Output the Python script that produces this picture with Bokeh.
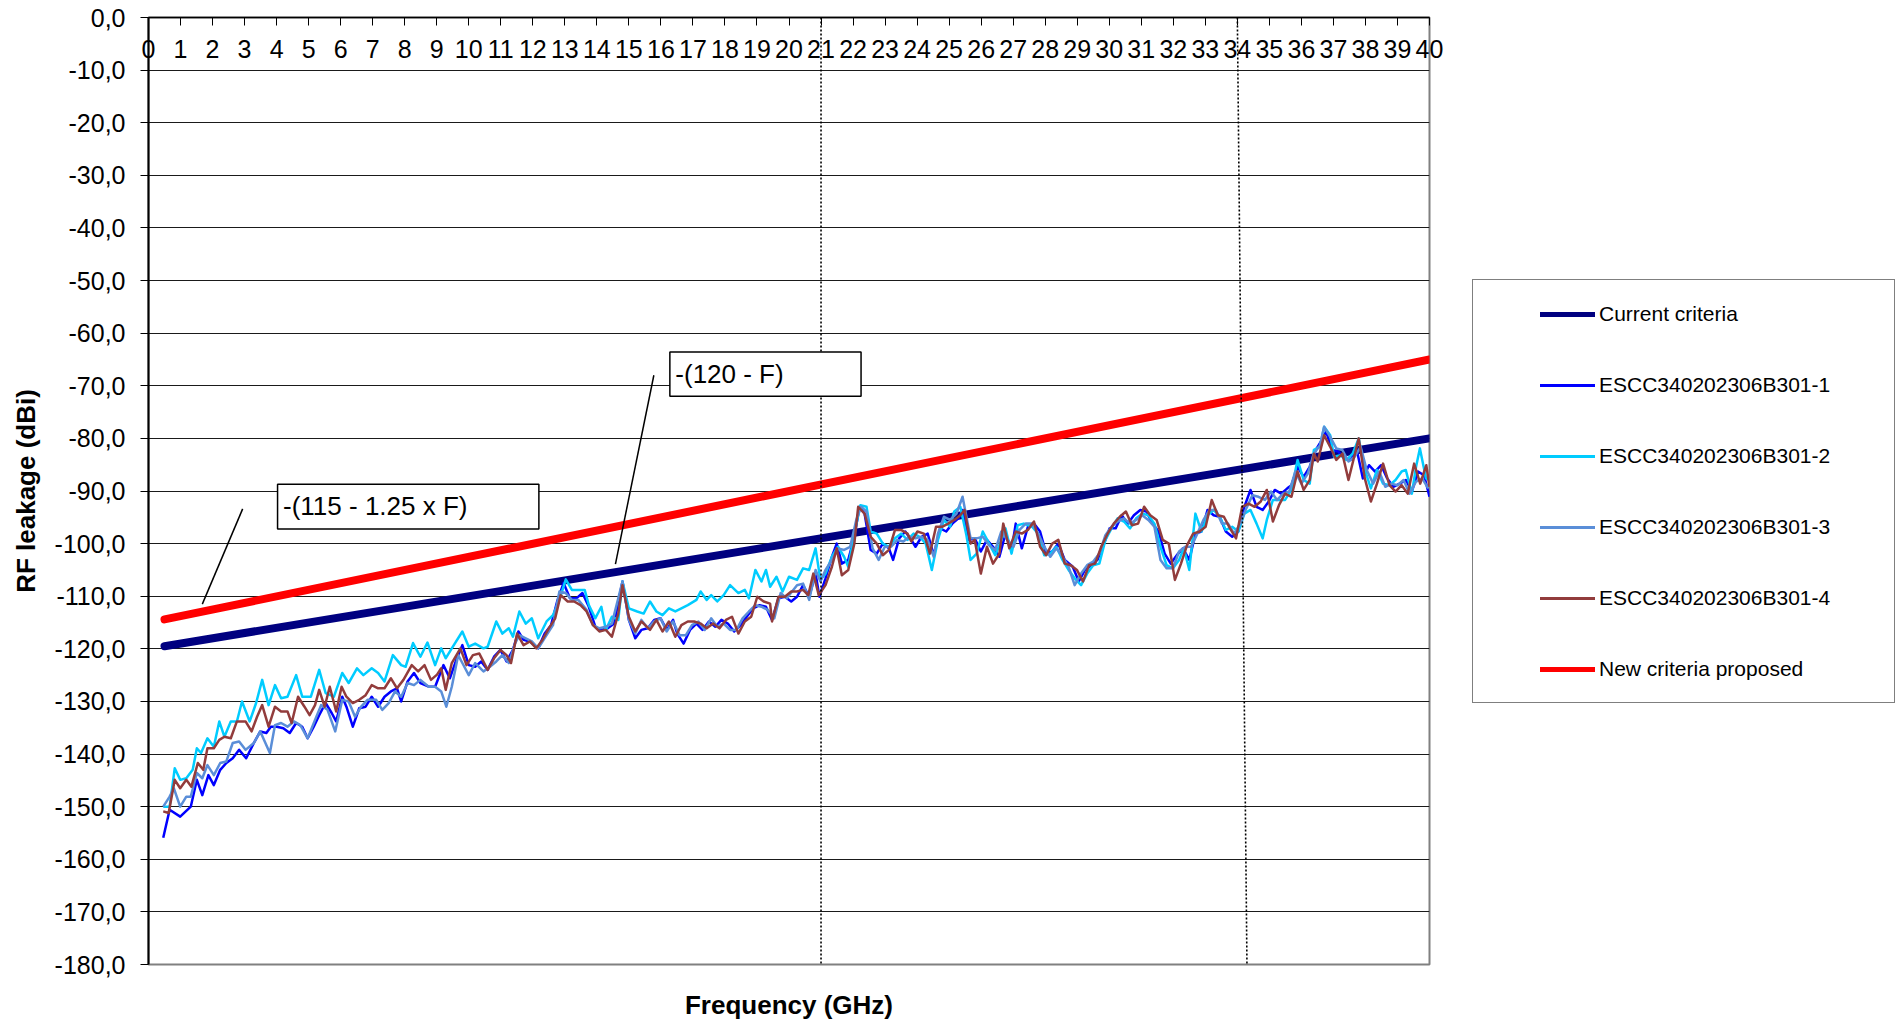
from bokeh.plotting import figure
from bokeh.models import Range1d, LinearAxis, FixedTicker, Legend, LegendItem, Grid
from bokeh.layouts import row
from bokeh.embed import file_html
from bokeh.resources import INLINE
from bokeh.core.properties import value

FONT = "Liberation Sans"

# ---------------- data (frequency GHz, RF leakage dBi) ----------------
series_names = ["ESCC340202306B301-1", "ESCC340202306B301-2",
                "ESCC340202306B301-3", "ESCC340202306B301-4"]
current_name = "Current criteria"
new_name = "New criteria proposed"

crit_freq = [0.5, 40.0]
current_dbi = [-119.5, -80.0]
new_dbi = [-114.4, -65.0]

s1 = [(0.46,-155.9),(0.66,-150.6),(0.99,-151.9),(1.32,-150.0),(1.51,-144.9),(1.68,-147.8),(1.87,-144.0),(2.04,-145.9),(2.24,-143.0),(2.43,-141.7),
      (2.63,-140.8),(2.83,-139.2),(3.05,-140.8),(3.29,-137.9),(3.49,-135.7),(3.68,-136.0),(3.82,-134.8),(4.01,-134.8),(4.21,-135.1),(4.41,-136.0),
      (4.61,-134.1),(4.80,-134.8),(4.97,-137.0),(5.16,-134.8),(5.33,-132.6),(5.53,-130.3),(5.72,-132.2),(5.86,-133.8),(6.05,-129.1),(6.18,-131.0),
      (6.38,-134.8),(6.58,-131.3),(6.78,-131.0),(6.97,-129.1),(7.17,-131.0),(7.37,-129.1),(7.57,-128.1),(7.76,-127.5),(7.89,-130.0),(8.09,-126.2),
      (8.29,-124.6),(8.49,-126.5),(8.75,-127.2),(8.95,-127.2),(9.21,-123.1),(9.41,-125.6),(9.61,-122.1),(9.80,-119.3),(10.0,-123.1),(10.20,-123.4),
      (10.39,-122.4),(10.59,-124.0),(10.79,-121.5),(10.99,-120.2),(11.18,-122.4),(11.38,-120.2),(11.55,-116.7),(11.71,-118.3),(11.91,-118.6),(12.17,-119.9),
      (12.37,-117.1),(12.57,-115.5),(12.76,-111.0),(12.96,-107.5),(13.16,-110.4),(13.36,-110.4),(13.55,-109.4),(13.75,-112.0),(13.95,-115.8),(14.14,-116.4),
      (14.34,-116.1),(14.54,-115.2),(14.80,-107.2),(15.0,-114.5),(15.20,-118.0),(15.39,-116.4),(15.59,-116.1),(15.79,-114.5),(15.99,-114.2),(16.18,-116.4),
      (16.38,-114.5),(16.51,-117.1),(16.71,-119.0),(16.91,-116.4),(17.11,-115.2),(17.30,-116.4),(17.50,-114.8),(17.70,-115.8),(17.89,-114.5),(18.09,-115.2),
      (18.29,-116.7),(18.49,-115.5),(18.68,-113.9),(18.88,-112.3),(19.08,-111.7),(19.28,-112.0),(19.47,-114.5),(19.67,-110.4),(19.87,-110.1),(20.07,-111.0),
      (20.25,-110.1),(20.44,-107.9),(20.63,-110.1),(20.83,-105.7),(20.95,-110.1),(21.14,-106.6),(21.34,-102.5),(21.49,-100.0),(21.65,-103.8),(21.85,-103.1),
      (22.04,-98.7),(22.20,-93.0),(22.36,-94.3),(22.55,-101.2),(22.74,-101.9),(22.93,-100.0),(23.12,-100.9),(23.25,-103.1),(23.44,-99.0),(23.63,-97.7),
      (23.82,-99.3),(23.95,-100.6),(24.14,-98.7),(24.33,-98.1),(24.52,-102.2),(24.72,-97.1),(24.91,-97.7),(25.10,-96.2),(25.29,-95.2),(25.42,-93.6),
      (25.61,-99.3),(25.80,-99.0),(25.99,-101.5),(26.18,-99.3),(26.37,-100.6),(26.57,-102.5),(26.76,-98.1),(26.95,-101.2),(27.08,-96.2),(27.27,-100.9),
      (27.46,-96.8),(27.65,-96.2),(27.84,-97.7),(28.03,-101.9),(28.22,-101.5),(28.41,-100.0),(28.61,-103.1),(28.86,-104.4),(29.05,-107.2),(29.24,-105.0),
      (29.44,-104.1),(29.63,-103.1),(29.82,-100.3),(30.01,-97.1),(30.20,-97.1),(30.39,-94.6),(30.58,-96.2),(30.77,-94.6),(30.97,-93.6),(31.16,-93.9),
      (31.35,-96.2),(31.54,-97.7),(31.73,-101.9),(31.92,-103.8),(32.11,-102.2),(32.30,-100.9),(32.50,-103.1),(32.69,-98.1),(32.88,-97.7),(33.07,-93.6),
      (33.26,-94.6),(33.45,-94.9),(33.64,-97.7),(33.84,-98.7),(34.03,-97.7),(34.22,-93.0),(34.41,-89.8),(34.60,-93.0),(34.79,-93.6),(34.98,-92.0),
      (35.17,-89.8),(35.37,-90.5),(35.56,-89.5),(35.69,-88.9),(35.88,-85.4),(36.07,-87.3),(36.26,-85.4),(36.45,-82.2),(36.64,-80.3),(36.77,-78.7),
      (36.96,-82.2),(37.15,-82.5),(37.34,-83.8),(37.53,-84.1),(37.73,-82.2),(37.92,-87.6),(38.11,-85.1),(38.30,-86.3),(38.49,-85.1),(38.68,-87.6),
      (38.87,-89.2),(39.07,-88.6),(39.26,-87.9),(39.45,-90.1),(39.64,-86.3),(39.83,-87.0),(40.0,-91.1)]

s2 = [(0.46,-150.0),(0.66,-150.0),(0.82,-142.7),(0.99,-144.9),(1.18,-144.6),(1.38,-143.0),(1.51,-138.9),(1.64,-139.8),(1.84,-137.0),(2.04,-138.6),
      (2.21,-133.8),(2.37,-136.7),(2.57,-133.8),(2.76,-133.8),(2.92,-130.0),(3.16,-133.8),(3.36,-130.3),(3.55,-125.9),(3.75,-130.7),(3.95,-126.9),
      (4.14,-129.4),(4.34,-129.1),(4.61,-125.0),(4.80,-129.1),(5.07,-129.1),(5.33,-124.0),(5.53,-128.4),(5.79,-129.1),(6.05,-124.6),(6.25,-126.5),
      (6.51,-123.7),(6.71,-125.0),(6.97,-123.7),(7.17,-124.6),(7.37,-126.2),(7.63,-121.2),(7.89,-123.1),(8.03,-123.4),(8.26,-118.9),(8.49,-121.5),
      (8.71,-118.8),(8.95,-123.1),(9.14,-119.9),(9.28,-121.8),(9.47,-119.9),(9.80,-116.7),(10.0,-119.6),(10.20,-119.0),(10.46,-119.9),(10.59,-119.6),
      (10.86,-114.8),(11.05,-117.1),(11.25,-116.1),(11.38,-117.7),(11.58,-112.9),(11.78,-115.2),(11.97,-114.2),(12.17,-118.0),(12.43,-114.8),(12.63,-113.6),
      (12.83,-110.7),(13.03,-106.8),(13.22,-108.8),(13.42,-108.8),(13.62,-108.8),(13.75,-111.7),(13.95,-114.2),(14.14,-112.0),(14.28,-116.4),(14.47,-113.9),
      (14.67,-114.5),(14.80,-107.2),(15.0,-112.3),(15.26,-112.9),(15.46,-113.3),(15.66,-111.0),(15.86,-112.9),(16.05,-113.6),(16.25,-112.3),(16.45,-112.9),
      (16.64,-112.3),(16.84,-111.7),(17.11,-110.7),(17.24,-109.1),(17.43,-110.7),(17.57,-109.8),(17.76,-111.0),(17.96,-109.8),(18.16,-107.9),(18.42,-109.4),
      (18.62,-108.8),(18.75,-110.4),(18.95,-105.0),(19.14,-107.2),(19.28,-105.0),(19.41,-108.2),(19.61,-106.3),(19.80,-109.1),(20.0,-106.3),
      (20.25,-106.9),(20.44,-104.7),(20.63,-105.0),(20.83,-100.9),(20.98,-106.9),(21.14,-105.7),(21.34,-102.5),(21.53,-100.6),(21.72,-102.5),(21.85,-104.4),
      (22.04,-98.1),(22.23,-92.7),(22.42,-93.0),(22.55,-97.7),(22.74,-98.1),(22.93,-100.0),(23.12,-100.6),(23.31,-99.0),(23.50,-98.1),(23.70,-99.3),
      (23.89,-98.1),(24.08,-98.7),(24.27,-100.0),(24.46,-105.0),(24.65,-99.3),(24.84,-95.5),(25.03,-96.8),(25.16,-93.9),(25.35,-93.0),(25.54,-98.4),
      (25.67,-103.1),(25.86,-101.9),(26.05,-97.7),(26.25,-100.0),(26.44,-102.2),(26.63,-99.3),(26.76,-97.1),(26.95,-101.9),(27.14,-96.5),(27.33,-96.2),
      (27.59,-96.8),(27.78,-98.1),(27.97,-102.2),(28.16,-101.9),(28.35,-100.6),(28.54,-103.1),(28.73,-105.0),(28.92,-106.6),(29.12,-107.9),(29.31,-105.7),
      (29.50,-104.1),(29.69,-103.8),(29.88,-99.3),(30.07,-97.1),(30.26,-95.2),(30.46,-95.8),(30.65,-97.1),(30.84,-95.2),(31.03,-94.3),(31.22,-94.6),
      (31.41,-96.2),(31.60,-100.6),(31.79,-104.1),(31.99,-104.7),(32.18,-103.1),(32.33,-100.9),(32.50,-105.0),(32.69,-94.3),(32.88,-97.7),(33.07,-94.6),
      (33.26,-93.6),(33.45,-94.9),(33.64,-97.4),(33.84,-96.8),(34.03,-97.7),(34.22,-94.3),(34.41,-93.6),(34.60,-96.2),(34.79,-99.0),(34.92,-95.5),
      (35.11,-91.7),(35.30,-91.7),(35.49,-91.7),(35.69,-89.8),(35.88,-84.1),(36.07,-87.9),(36.26,-88.6),(36.39,-82.2),(36.58,-81.6),(36.71,-77.8),
      (36.90,-79.4),(37.02,-83.5),(37.22,-83.2),(37.41,-84.1),(37.60,-82.9),(37.79,-80.0),(37.98,-86.0),(38.17,-89.5),(38.36,-86.0),(38.55,-88.6),
      (38.75,-88.9),(38.94,-87.9),(39.13,-86.3),(39.26,-86.0),(39.45,-90.5),(39.58,-85.4),(39.70,-81.9),(39.89,-87.6),(40.0,-87.9)]

s3 = [(0.46,-150.0),(0.66,-148.1),(0.79,-146.5),(0.99,-150.0),(1.18,-148.1),(1.32,-148.1),(1.51,-143.6),(1.68,-144.6),(1.84,-142.1),(2.04,-144.0),
      (2.24,-141.7),(2.43,-141.4),(2.63,-137.9),(2.83,-137.6),(3.03,-139.2),(3.29,-137.9),(3.49,-135.7),(3.79,-139.8),(3.95,-134.5),(4.14,-134.1),
      (4.34,-134.8),(4.54,-133.8),(4.74,-134.5),(4.97,-137.0),(5.20,-133.5),(5.39,-130.7),(5.59,-131.6),(5.83,-135.7),(6.05,-129.7),(6.25,-130.0),
      (6.45,-132.9),(6.64,-131.0),(6.84,-129.7),(7.11,-129.7),(7.30,-131.6),(7.50,-130.3),(7.70,-128.1),(7.89,-129.1),(8.09,-126.5),(8.29,-126.9),
      (8.49,-125.9),(8.75,-127.2),(8.95,-127.2),(9.14,-128.1),(9.30,-131.0),(9.47,-127.2),(9.67,-121.2),(9.80,-122.7),(10.0,-125.0),(10.20,-122.7),
      (10.46,-124.3),(10.66,-123.4),(10.86,-122.4),(11.05,-121.2),(11.25,-122.7),(11.45,-118.9),(11.58,-117.4),(11.78,-118.0),(11.97,-118.6),(12.17,-119.9),
      (12.43,-117.4),(12.63,-115.5),(12.83,-109.1),(13.03,-109.4),(13.22,-110.7),(13.42,-110.7),(13.68,-112.6),(13.88,-115.5),(14.08,-116.1),(14.28,-115.8),
      (14.47,-115.2),(14.80,-107.2),(15.0,-114.5),(15.20,-117.1),(15.39,-114.5),(15.59,-116.1),(15.79,-114.8),(15.99,-114.2),(16.18,-116.7),(16.38,-114.8),
      (16.58,-117.4),(16.78,-117.4),(16.97,-115.5),(17.17,-114.8),(17.37,-116.4),(17.57,-114.2),(17.76,-115.8),(17.96,-115.2),(18.16,-116.4),(18.36,-116.4),
      (18.55,-114.2),(18.75,-112.9),(18.95,-111.7),(19.14,-112.0),(19.34,-112.6),(19.54,-114.2),(19.74,-109.4),(19.93,-110.4),
      (20.25,-107.9),(20.44,-107.6),(20.63,-110.7),(20.83,-105.0),(20.98,-107.2),(21.14,-105.0),(21.34,-103.1),(21.53,-100.9),(21.72,-101.2),(21.91,-100.6),
      (22.10,-95.5),(22.25,-93.0),(22.42,-93.9),(22.61,-100.9),(22.80,-103.1),(22.99,-100.6),(23.19,-100.6),(23.38,-99.3),(23.57,-99.6),(23.76,-98.7),
      (23.95,-99.0),(24.14,-98.7),(24.33,-99.3),(24.52,-102.5),(24.65,-98.1),(24.84,-94.9),(25.03,-95.5),(25.23,-94.3),(25.42,-91.1),(25.54,-94.9),
      (25.67,-99.0),(25.86,-99.0),(26.05,-98.7),(26.25,-100.3),(26.44,-101.2),(26.63,-97.7),(26.82,-99.3),(27.01,-100.6),(27.20,-97.4),(27.39,-96.2),
      (27.59,-96.2),(27.78,-98.1),(27.97,-100.6),(28.16,-102.5),(28.35,-100.9),(28.54,-102.5),(28.73,-104.4),(28.92,-107.9),(29.12,-105.7),(29.31,-104.1),
      (29.50,-103.4),(29.69,-101.9),(29.88,-98.4),(30.07,-96.8),(30.26,-95.8),(30.46,-95.2),(30.65,-96.2),(30.84,-95.5),(31.03,-94.6),(31.22,-95.5),
      (31.41,-96.8),(31.60,-103.1),(31.79,-104.7),(31.99,-104.7),(32.18,-101.5),(32.37,-100.6),(32.56,-100.6),(32.75,-98.1),(32.94,-95.5),(33.13,-93.6),
      (33.33,-93.6),(33.52,-96.2),(33.71,-96.2),(33.90,-98.1),(34.09,-96.2),(34.28,-93.3),(34.47,-90.8),(34.66,-91.1),(34.86,-91.7),(35.05,-90.1),
      (35.24,-91.7),(35.43,-90.5),(35.62,-90.1),(35.81,-86.3),(36.00,-88.6),(36.20,-86.7),(36.39,-82.9),(36.58,-81.3),(36.71,-77.8),(36.90,-79.7),
      (37.09,-81.9),(37.28,-82.2),(37.47,-84.4),(37.66,-83.5),(37.85,-81.6),(38.04,-86.0),(38.24,-88.6),(38.43,-86.3),(38.62,-89.2),(38.81,-88.6),
      (39.00,-88.9),(39.19,-87.9),(39.38,-90.5),(39.58,-88.2),(39.77,-87.6),(39.96,-89.5)]

s4 = [(0.46,-150.9),(0.63,-151.2),(0.82,-144.9),(0.99,-146.5),(1.18,-144.9),(1.34,-146.2),(1.54,-141.7),(1.71,-143.0),(1.84,-138.9),(2.04,-138.9),
      (2.21,-137.3),(2.37,-136.7),(2.57,-137.0),(2.76,-133.8),(3.03,-133.8),(3.22,-135.7),(3.39,-132.9),(3.55,-130.7),(3.75,-134.8),(3.95,-131.0),
      (4.14,-131.9),(4.34,-131.9),(4.47,-134.1),(4.67,-129.1),(4.87,-131.0),(5.03,-132.6),(5.20,-130.7),(5.33,-127.8),(5.50,-131.0),(5.66,-127.2),
      (5.86,-131.9),(6.03,-127.2),(6.18,-129.1),(6.38,-130.3),(6.58,-129.7),(6.78,-128.8),(6.97,-126.9),(7.17,-127.5),(7.37,-127.5),(7.57,-125.6),
      (7.76,-127.5),(7.96,-125.9),(8.22,-123.1),(8.42,-124.3),(8.62,-123.1),(8.82,-125.9),(9.01,-124.9),(9.14,-123.7),(9.28,-127.8),(9.47,-122.7),
      (9.74,-119.9),(9.93,-123.1),(10.13,-121.2),(10.33,-120.9),(10.59,-124.0),(10.79,-121.8),(10.99,-120.2),(11.18,-121.2),(11.32,-122.7),(11.51,-117.1),
      (11.71,-119.3),(11.91,-118.6),(12.11,-119.9),(12.30,-118.3),(12.50,-116.1),(12.70,-114.2),(12.87,-109.8),(13.09,-111.0),(13.29,-111.0),(13.49,-111.7),
      (13.68,-112.9),(13.88,-115.5),(14.08,-116.7),(14.28,-116.4),(14.47,-117.7),(14.67,-113.3),(14.80,-107.9),(15.0,-113.9),(15.20,-116.7),(15.39,-114.8),
      (15.66,-116.4),(15.86,-114.5),(16.05,-116.7),(16.25,-114.8),(16.45,-117.7),(16.64,-115.5),(16.84,-114.8),(17.04,-114.8),(17.24,-115.2),(17.43,-116.1),
      (17.63,-115.2),(17.83,-116.1),(18.03,-114.5),(18.22,-113.9),(18.42,-117.1),(18.62,-114.8),(18.82,-113.9),(19.01,-110.1),(19.21,-111.0),(19.41,-111.4),
      (19.47,-114.8),(19.67,-110.1),(19.87,-110.1),(20.07,-109.1),
      (20.25,-109.1),(20.44,-108.8),(20.60,-109.8),(20.76,-105.7),(20.93,-109.8),(21.14,-107.9),(21.34,-104.4),(21.49,-100.9),(21.65,-106.0),(21.85,-105.0),
      (22.04,-100.0),(22.16,-93.0),(22.36,-94.3),(22.55,-98.7),(22.74,-100.0),(22.93,-102.2),(23.12,-101.2),(23.31,-97.4),(23.50,-97.4),(23.70,-98.1),
      (23.82,-99.6),(24.01,-97.7),(24.21,-98.1),(24.40,-101.9),(24.59,-96.8),(24.78,-96.8),(24.97,-96.2),(25.16,-95.5),(25.35,-94.6),(25.48,-93.6),
      (25.67,-100.0),(25.80,-99.3),(25.99,-105.7),(26.18,-100.6),(26.37,-103.8),(26.57,-101.9),(26.69,-96.2),(26.88,-100.9),(27.08,-97.7),(27.27,-98.1),
      (27.46,-97.4),(27.65,-95.8),(27.84,-100.6),(28.03,-102.2),(28.22,-100.0),(28.41,-99.3),(28.61,-103.8),(28.80,-104.1),(28.99,-105.0),(29.18,-107.2),
      (29.37,-104.1),(29.56,-103.8),(29.75,-100.6),(29.95,-98.1),(30.14,-96.2),(30.33,-94.9),(30.52,-93.9),(30.71,-96.5),(30.90,-96.2),(31.09,-93.0),
      (31.28,-94.6),(31.48,-95.5),(31.67,-99.3),(31.86,-100.0),(32.05,-106.9),(32.24,-103.8),(32.43,-100.3),(32.62,-98.1),(32.82,-97.7),(33.01,-96.8),
      (33.20,-91.7),(33.39,-94.6),(33.58,-94.9),(33.77,-97.1),(33.96,-99.0),(34.15,-93.0),(34.35,-92.4),(34.54,-93.0),(34.73,-92.0),(34.92,-89.8),
      (35.11,-95.8),(35.30,-92.7),(35.49,-90.5),(35.69,-91.1),(35.88,-86.3),(36.07,-89.8),(36.26,-87.9),(36.39,-82.9),(36.51,-84.4),(36.71,-79.4),
      (36.90,-81.6),(37.09,-84.1),(37.28,-82.9),(37.47,-87.9),(37.66,-83.2),(37.79,-80.0),(37.98,-87.6),(38.17,-92.0),(38.36,-88.6),(38.55,-84.8),
      (38.75,-88.9),(38.94,-90.1),(39.13,-88.9),(39.32,-90.5),(39.52,-84.8),(39.71,-88.6),(39.90,-85.1),(40.0,-89.2)]

x_ticks = list(range(0, 41))
x_tick_labels = [str(t) for t in x_ticks]
y_ticks = list(range(-180, 1, 10))
y_tick_labels = ["%d,0" % t for t in y_ticks]

# annotations (text boxes with leader lines, dotted markers)
ann_text = ["-(115 - 1.25 x F)", "-(120 - F)"]
ann_left = [4.03, 16.28]
ann_right = [12.19, 22.25]
ann_top = [-88.7, -63.6]
ann_bottom = [-97.2, -72.0]
ann_tx = [4.2, 16.45]
ann_ty = [-92.9, -67.8]
lead_x0 = [2.94, 15.78]
lead_y0 = [-93.4, -68.0]
lead_x1 = [1.68, 14.58]
lead_y1 = [-111.5, -103.9]
mark_x0 = [21.0, 34.0]
mark_x1 = [21.0, 34.3]
mark_y0 = [0.0, 0.0]
mark_y1 = [-180.0, -180.0]

# ---------------- styles ----------------
series_colors = ["#0000FF", "#00CCFF", "#5A8ED8", "#923C3C"]
current_color = "#000080"
new_color = "#FF0000"

HEIGHT = 1023
BORDER_TOP = 17
BORDER_BOTTOM = 59

# ---------------- main plot ----------------
p = figure(width=1471, height=HEIGHT, x_range=Range1d(0, 40), y_range=Range1d(-180, 0),
           x_axis_location=None, y_axis_location=None,
           toolbar_location=None, output_backend="svg",
           min_border_left=148, min_border_right=42,
           min_border_top=BORDER_TOP, min_border_bottom=BORDER_BOTTOM)
p.background_fill_color = "white"
p.border_fill_color = "white"
p.outline_line_color = "#808080"
p.outline_line_width = 2
p.center = [r for r in p.center if not isinstance(r, Grid)]

yaxis = LinearAxis(ticker=FixedTicker(ticks=y_ticks),
                   major_label_overrides=dict(zip(y_ticks, y_tick_labels)),
                   major_tick_in=0, major_tick_out=8, minor_tick_line_color=None,
                   major_label_standoff=15, axis_line_width=2, axis_line_color="black",
                   major_tick_line_color="black",
                   major_label_text_font=FONT, major_label_text_font_size="25px",
                   major_label_text_color="black",
                   axis_label="RF leakage (dBi)", axis_label_standoff=11,
                   axis_label_text_font=FONT, axis_label_text_font_size="26px",
                   axis_label_text_font_style="bold", axis_label_text_color="black")
p.add_layout(yaxis, "left")

xaxis = LinearAxis(ticker=FixedTicker(ticks=x_ticks),
                   major_label_overrides=dict(zip(x_ticks, x_tick_labels)),
                   major_tick_in=8, major_tick_out=0, minor_tick_line_color=None,
                   major_label_standoff=-40, axis_line_width=1.5, axis_line_color="black",
                   major_tick_line_color="black",
                   major_label_text_font=FONT, major_label_text_font_size="25px",
                   major_label_text_color="black")
p.add_layout(xaxis, "above")

xtitle = LinearAxis(ticker=FixedTicker(ticks=[]), axis_line_color=None,
                    major_tick_in=0, major_tick_out=0, minor_tick_line_color=None,
                    major_tick_line_color=None, major_label_standoff=0,
                    axis_label="Frequency (GHz)", axis_label_standoff=25,
                    axis_label_text_font=FONT, axis_label_text_font_size="26px",
                    axis_label_text_font_style="bold", axis_label_text_color="black")
p.add_layout(xtitle, "below")

p.add_layout(Grid(dimension=1, ticker=FixedTicker(ticks=y_ticks),
                  grid_line_color="#1a1a1a", grid_line_width=1))

p.line(crit_freq, current_dbi, line_color=current_color, line_width=8, line_cap="round")
for data, col in zip([s1, s2, s3, s4], series_colors):
    fx = [d[0] for d in data]
    fy = [d[1] for d in data]
    p.line(fx, fy, line_color=col, line_width=2.5, line_join="round")
p.line(crit_freq, new_dbi, line_color=new_color, line_width=8, line_cap="round")

p.segment(x0=mark_x0, y0=mark_y0, x1=mark_x1, y1=mark_y1,
          line_color="black", line_width=1.6, line_dash="2 2")
p.segment(x0=lead_x0, y0=lead_y0, x1=lead_x1, y1=lead_y1,
          line_color="black", line_width=1.5)
p.quad(left=ann_left, right=ann_right, top=ann_top, bottom=ann_bottom,
       fill_color="white", line_color="black", line_width=1.5)
p.text(x=ann_tx, y=ann_ty, text=ann_text, text_font=value(FONT),
       text_font_size="26px", text_align="left", text_baseline="middle",
       text_color="black")

# ---------------- legend panel (same vertical borders, frames align) ----------------
lg = figure(width=424, height=HEIGHT, x_range=Range1d(0, 1), y_range=Range1d(0, 1),
            x_axis_location=None, y_axis_location=None,
            toolbar_location=None, output_backend="svg",
            min_border_left=0, min_border_right=0,
            min_border_top=BORDER_TOP, min_border_bottom=BORDER_BOTTOM)
lg.background_fill_color = "white"
lg.border_fill_color = "white"
lg.outline_line_color = None
lg.center = [r for r in lg.center if not isinstance(r, Grid)]

# box legend: one blank item sized to the legend frame
blank = lg.line(x=[-5, -4], y=[-5, -5], line_alpha=0)
box = Legend(items=[LegendItem(label=" ", renderers=[blank])], location=(1, 261),
             padding=0, margin=0, glyph_width=0, glyph_height=422, label_standoff=0,
             label_width=421, label_height=422,
             border_line_color="black", border_line_width=1.5,
             background_fill_color="white", background_fill_alpha=1,
             label_text_font_size="1px")
lg.add_layout(box)

leg_names = [current_name] + series_names + [new_name]
leg_colors = [current_color] + series_colors + [new_color]
leg_widths = [5, 3, 3, 3, 3, 5]
items = []
for nm, col, w in zip(leg_names, leg_colors, leg_widths):
    r = lg.line(x=[-5, -4], y=[-5, -5], line_color=col, line_width=w, line_cap="round")
    items.append(LegendItem(label=nm, renderers=[r]))

legend = Legend(items=items, location=(69, 280), padding=0, margin=0, spacing=41,
                label_height=30, glyph_height=30, glyph_width=55, label_standoff=4,
                border_line_color=None, background_fill_alpha=0,
                label_text_font=FONT, label_text_font_size="21px", label_text_color="black")
lg.add_layout(legend)

layout = row(p, lg)
open("out.html", "w").write(file_html(layout, INLINE))
